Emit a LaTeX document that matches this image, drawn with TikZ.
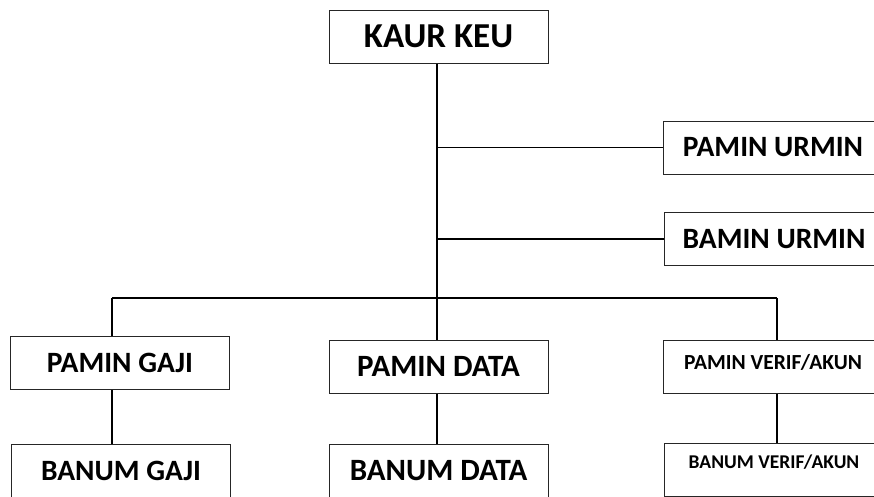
\documentclass[tikz,border=0pt]{standalone}
\usepackage{fontspec}
\setmainfont{Carlito}
\usepackage{tikz}
\usetikzlibrary{calc,positioning}
\def\mautuyen{black}
\def\maukhung{black!85}
\begin{document}
\begin{tikzpicture}[x=1pt,y=-1pt]
		\tikzstyle{kotak} = [draw=\maukhung,line width=1pt,minimum width=219pt,minimum height=53pt,inner sep=0pt,font=\bfseries]
		\tikzstyle{garis} = [line width=1.6pt,\mautuyen]
		\tikzstyle{besar} = [font=\bfseries\fontsize{35}{35}\selectfont]
		\tikzstyle{sedang} = [font=\bfseries\fontsize{29.5}{29.5}\selectfont]
		\tikzstyle{tengah} = [font=\bfseries\fontsize{31}{31}\selectfont]
		\tikzstyle{kecil} = [font=\bfseries\fontsize{21.5}{21.5}\selectfont]
		\tikzstyle{kecilan} = [font=\bfseries\fontsize{19.5}{19.5}\selectfont]
		\useasboundingbox (0,0) rectangle (874,496);
		\clip (0,0) rectangle (874,496);
		\node[kotak,besar] (kaur) at (438.5,36.5) {KAUR KEU};
		\node[kotak,sedang] (purmin) at (773,147.5) {PAMIN URMIN};
		\node[kotak,sedang] (burmin) at (774,239) {BAMIN URMIN};
		\node[kotak,sedang] (pgaji) at (120,363) {PAMIN GAJI};
		\node[kotak,tengah] (pdata) at (438.5,366.5) {PAMIN DATA};
		\node[kotak,kecil,text depth=10pt] (pverif) at (773,367) {PAMIN VERIF/AKUN};
		\node[kotak,sedang] (bgaji) at (121,470.5) {BANUM GAJI};
		\node[kotak,tengah] (bdata) at (438.5,470.5) {BANUM DATA};
		\node[kotak,kecilan,text depth=16pt] (bverif) at (774,470) {BANUM VERIF/AKUN};
		\coordinate (busL) at (112,298);
		\coordinate (busR) at (777,298);
		\draw[garis] (kaur.south -| 437,0) -- (pdata.north -| 437,0);
		\draw[garis] (purmin.west -| 437,0) -- (purmin.west);
		\draw[garis] (burmin.west -| 437,0) -- (burmin.west);
		\draw[garis] (busL) -- (busR);
		\draw[garis] (busL) -- (busL |- pgaji.north);
		\draw[garis] (busR) -- (busR |- pverif.north);
		\draw[garis] (busL |- pgaji.south) -- (busL |- bgaji.north);
		\draw[garis] (pdata.south -| 437,0) -- (bdata.north -| 437,0);
		\draw[garis] (busR |- pverif.south) -- (busR |- bverif.north);
\end{tikzpicture}
\end{document}
